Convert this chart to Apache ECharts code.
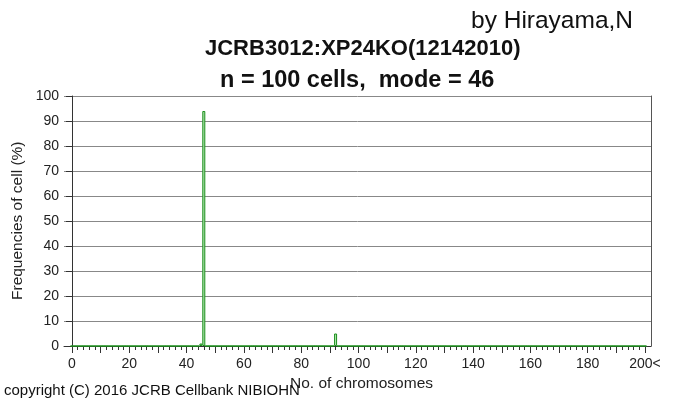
<!DOCTYPE html>
<html><head><meta charset="utf-8">
<script src="https://cdn.jsdelivr.net/npm/echarts@6/dist/echarts.min.js"></script>
<style>html,body{margin:0;padding:0;background:#fff}#c{width:700px;height:408px}</style>
</head><body><div id="c"></div>
<script>
// Observed chromosome counts and frequencies (%)
const chromosomes = [45, 46, 92];
const frequencies = [1, 94, 5];
const xRangeMax = 200;
const yTicks = [0,10,20,30,40,50,60,70,80,90,100];
const xLabelStep = 20;

const titleText = 'JCRB3012:XP24KO(12142010)';
const subText = 'n = 100 cells,  mode = 46';
const authorText = 'by Hirayama,N';
const copyrightText = 'copyright (C) 2016 JCRB Cellbank NIBIOHN';
const xName = 'No. of chromosomes';
const yName = 'Frequencies of cell (%)';

const barData = [];
for (let i = 0; i <= xRangeMax; i++) {
  const k = chromosomes.indexOf(i);
  barData.push([i, k >= 0 ? frequencies[k] : 0]);
}

const chart = echarts.init(document.getElementById('c'));
const FONT = 'Liberation Sans';
chart.setOption({
  animation: false,
  textStyle: {fontFamily: FONT},
  grid: [
    {left: 64, right: 49, top: 96, bottom: 62},
    {left: 72, right: 55, top: 96, bottom: 62}
  ],
  xAxis: [
    {gridIndex: 0, type: 'value', min: -2.8, max: 202.1,
     axisLine: {show: true, onZero: false, lineStyle: {color: '#333', width: 1}},
     axisTick: {show: false}, axisLabel: {show: false}, splitLine: {show: false}},
    {gridIndex: 1, type: 'value', min: 0, max: xRangeMax, interval: 10,
     axisLine: {show: false},
     axisTick: {show: true, length: 7, lineStyle: {color: '#333'}},
     minorTick: {show: true, splitNumber: 5, length: 4, lineStyle: {color: '#333'}},
     splitLine: {show: false},
     axisLabel: {fontSize: 14, color: '#222', margin: 11,
       formatter: v => v % xLabelStep === 0 ? (v === xRangeMax ? v + '<' : String(v)) : ''}}
  ],
  yAxis: [
    {gridIndex: 0, type: 'value', min: yTicks[0], max: yTicks[yTicks.length-1], interval: 10,
     axisLine: {show: true, lineStyle: {color: '#333'}},
     axisTick: {show: true, length: 6, lineStyle: {color: '#333'}},
     axisLabel: {fontSize: 14, color: '#222', margin: 5},
     splitLine: {show: true, lineStyle: {color: '#888', width: 1}}},
    {gridIndex: 0, type: 'value', position: 'right', min: 0, max: 100,
     axisLine: {show: true, lineStyle: {color: '#555'}},
     axisTick: {show: false}, axisLabel: {show: false}, splitLine: {show: false}},
    {gridIndex: 1, type: 'value', min: 0, max: 100, show: false}
  ],
  series: [{
    type: 'bar', xAxisIndex: 0, yAxisIndex: 0, barWidth: 3,
    data: barData,
    itemStyle: {color: '#b5e6b5', borderColor: '#1a8f1a', borderWidth: 1}
  }],
  graphic: [
    {type: 'text', left: 471, top: 9, style: {text: authorText, font: '24.5px ' + FONT, fill: '#111'}},
    {type: 'text', left: 205, top: 38, style: {text: titleText, font: 'bold 22px ' + FONT, fill: '#111'}},
    {type: 'text', left: 220, top: 69, style: {text: subText, font: 'bold 23.5px ' + FONT, fill: '#111'}},
    {type: 'text', left: 290, top: 376, style: {text: xName, font: '15.5px ' + FONT, fill: '#222'}},
    {type: 'text', left: 4, top: 383, style: {text: copyrightText, font: '15px ' + FONT, fill: '#111'}},
    {type: 'text', x: 10, y: 300, rotation: Math.PI/2, style: {text: yName, font: '15.5px ' + FONT, fill: '#222'}}
  ]
});
</script></body></html>
